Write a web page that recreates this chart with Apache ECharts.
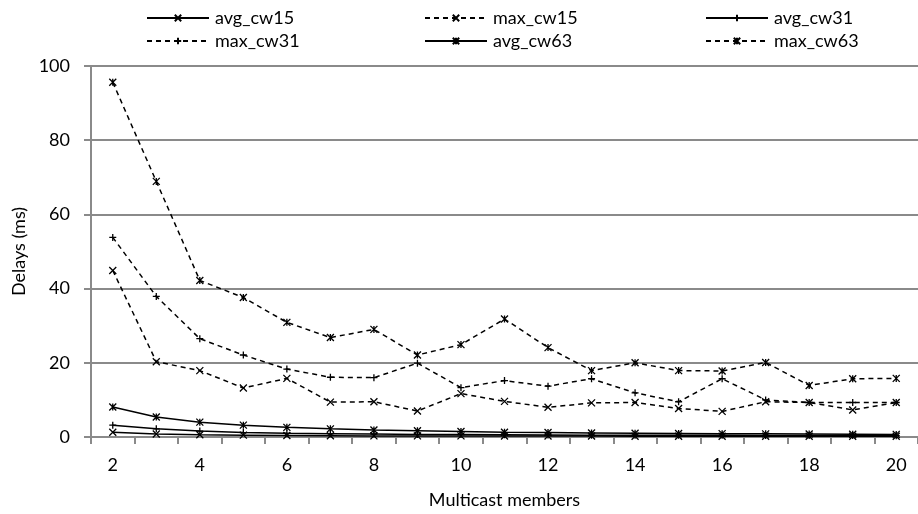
<!DOCTYPE html>
<html>
<head>
<meta charset="utf-8">
<script src="https://cdn.jsdelivr.net/npm/echarts@6/dist/echarts.min.js"></script>
<style>html,body{margin:0;padding:0;background:#fff}#c{width:918px;height:514px}</style>
</head>
<body>
<div id="c"></div>
<script>
const categories = ['2','3','4','5','6','7','8','9','10','11','12','13','14','15','16','17','18','19','20'];
const avg_cw15 = [1.3, 0.8, 0.6, 0.5, 0.4, 0.35, 0.3, 0.3, 0.3, 0.25, 0.25, 0.25, 0.2, 0.2, 0.2, 0.2, 0.2, 0.2, 0.2];
const max_cw15 = [44.9, 20.3, 17.9, 13.2, 15.8, 9.4, 9.5, 7.0, 11.7, 9.6, 8.0, 9.2, 9.3, 7.7, 6.9, 9.5, 9.3, 7.3, 9.3];
const avg_cw31 = [3.2, 2.2, 1.6, 1.2, 1.0, 0.9, 0.8, 0.7, 0.65, 0.6, 0.55, 0.5, 0.5, 0.45, 0.45, 0.4, 0.4, 0.4, 0.35];
const max_cw31 = [53.8, 37.9, 26.5, 22.1, 18.3, 16.1, 16.0, 19.9, 13.3, 15.2, 13.7, 15.7, 11.9, 9.5, 15.7, 10.0, 9.3, 9.3, 9.3];
const avg_cw63 = [8.1, 5.4, 4.0, 3.2, 2.6, 2.2, 1.9, 1.7, 1.5, 1.3, 1.2, 1.1, 1.0, 0.95, 0.9, 0.85, 0.8, 0.75, 0.7];
const max_cw63 = [95.6, 68.9, 42.2, 37.6, 30.9, 26.8, 29.0, 22.1, 24.9, 31.8, 24.1, 17.9, 20.0, 17.9, 17.8, 20.1, 13.9, 15.7, 15.8];
const yTicks = [0, 20, 40, 60, 80, 100];

const FONT = 'Lato';
const SYM_X = 'path://M0,0L10,10M10,0L0,10';
const SYM_PLUS = 'path://M5,0L5,10M0,5L10,5';
const SYM_STAR = 'path://M0,0L10,10M10,0L0,10M5,0L5,10';

function mk(name, data, sym, dashed) {
  return {
    name: name, type: 'line', data: data,
    symbol: sym, symbolSize: 7, showSymbol: true,
    lineStyle: { color: '#000', width: 1.5, type: dashed ? [5, 4] : 'solid' },
    itemStyle: { color: 'rgba(0,0,0,0)', borderColor: '#000', borderWidth: 1.3 },
    emphasis: { disabled: true },
    animation: false, z: 3
  };
}

const seriesDefs = [
  ['avg_cw15', avg_cw15, SYM_X, false],
  ['max_cw15', max_cw15, SYM_X, true],
  ['avg_cw31', avg_cw31, SYM_PLUS, false],
  ['max_cw31', max_cw31, SYM_PLUS, true],
  ['avg_cw63', avg_cw63, SYM_STAR, false],
  ['max_cw63', max_cw63, SYM_STAR, true]
];
const legPos = [[146, 9], [424, 9], [705, 9], [146, 32], [424, 32], [705, 32]];

const chart = echarts.init(document.getElementById('c'), null, { renderer: 'canvas' });
chart.setOption({
  backgroundColor: '#fff',
  animation: false,
  textStyle: { fontFamily: FONT },
  legend: seriesDefs.map((s, i) => ({
    data: [s[0]], left: legPos[i][0], top: legPos[i][1],
    itemWidth: 62, itemHeight: 8, itemGap: 0, padding: 0,
    textStyle: { fontFamily: FONT, fontSize: 18, color: '#000', padding: [0, 0, 0, 1] },
    selectedMode: false
  })),
  grid: { left: 91, top: 66, width: 834, height: 373 },
  xAxis: {
    type: 'category', data: categories, boundaryGap: true,
    name: 'Multicast members', nameLocation: 'middle', nameGap: 54,
    nameTextStyle: { fontFamily: FONT, fontSize: 18, color: '#000' },
    axisLine: { lineStyle: { color: '#8a8a8a', width: 2 } },
    axisTick: { show: true, interval: 0, length: 7, lineStyle: { color: '#8a8a8a', width: 2 } },
    axisLabel: { interval: 1, fontFamily: FONT, fontSize: 18, color: '#000', margin: 19 },
    splitLine: { show: false }
  },
  yAxis: {
    type: 'value', min: yTicks[0], max: yTicks[yTicks.length - 1], interval: 20,
    name: 'Delays (ms)', nameLocation: 'middle', nameGap: 63,
    nameTextStyle: { fontFamily: FONT, fontSize: 18, color: '#000' },
    axisLine: { show: true, lineStyle: { color: '#8a8a8a', width: 2 } },
    axisTick: { show: true, length: 7, lineStyle: { color: '#8a8a8a', width: 2 } },
    axisLabel: { fontFamily: FONT, fontSize: 18, color: '#000', margin: 21 },
    splitLine: { show: true, lineStyle: { color: '#8a8a8a', width: 2 } }
  },
  series: seriesDefs.map(s => mk(s[0], s[1], s[2], s[3]))
});
</script>
</body>
</html>
